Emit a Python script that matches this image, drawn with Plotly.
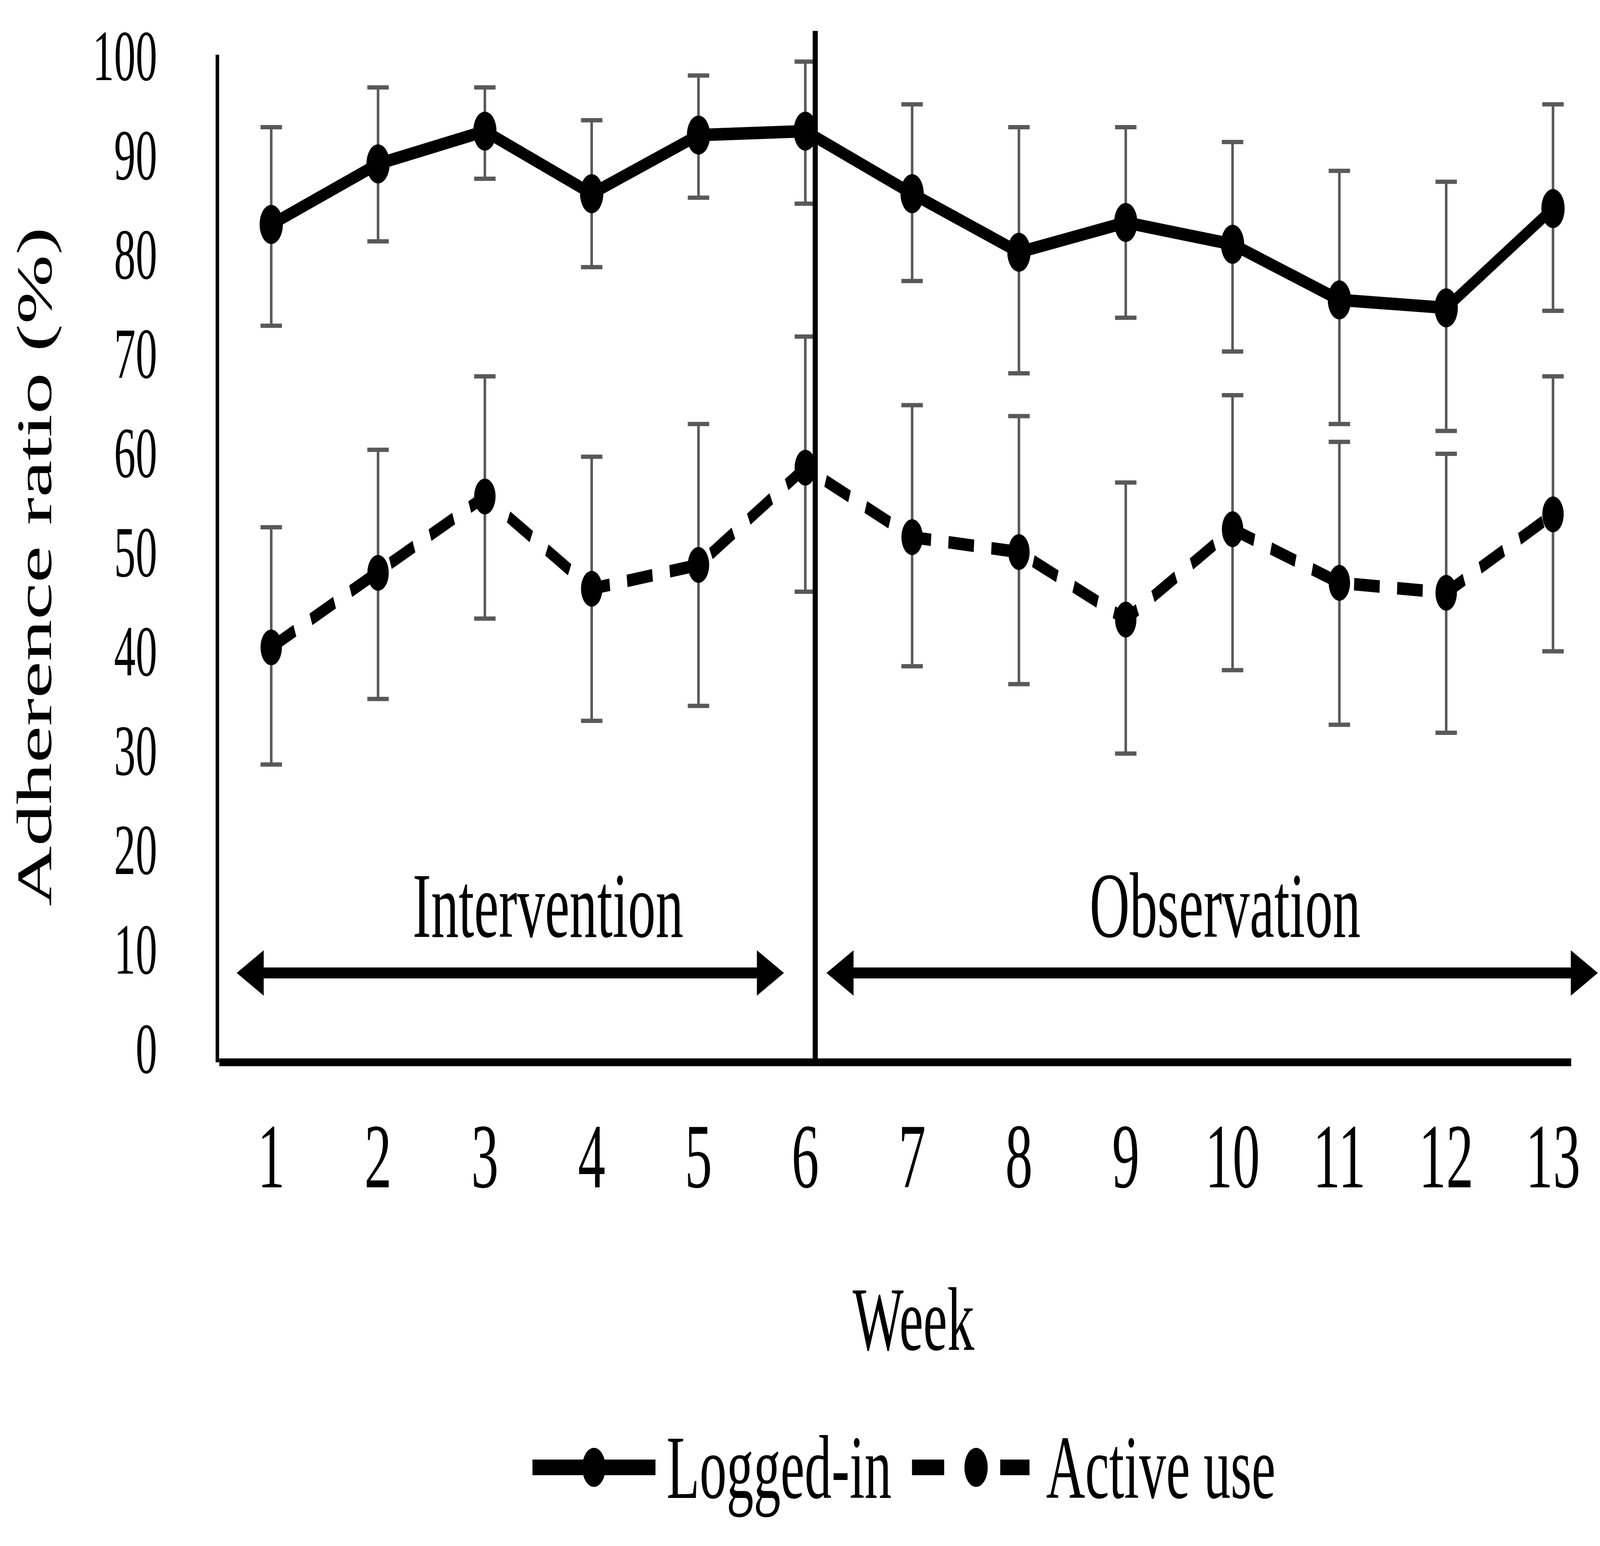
import plotly.graph_objects as go

weeks = list(range(1, 14))
week_labels = [str(w) for w in weeks]
logged_mean = [82.9, 89.0, 92.3, 86.0, 91.9, 92.3, 86.0, 80.1, 83.1, 80.9, 75.3, 74.5, 84.5]
logged_upper = [92.7, 96.7, 96.7, 93.4, 97.9, 99.3, 95.0, 92.7, 92.7, 91.2, 88.3, 87.2, 95.0]
logged_lower = [72.7, 81.2, 87.5, 78.6, 85.6, 85.0, 77.2, 67.9, 73.5, 70.1, 62.8, 62.1, 74.2]
active_mean = [40.3, 47.8, 55.5, 46.2, 48.6, 58.4, 51.4, 49.9, 43.1, 52.2, 46.8, 45.8, 53.7]
active_upper = [52.4, 60.2, 67.6, 59.5, 62.8, 71.6, 64.7, 63.6, 56.9, 65.7, 61.0, 59.8, 67.6]
active_lower = [28.5, 35.1, 43.2, 32.9, 34.4, 45.9, 38.4, 36.6, 29.6, 38.0, 32.5, 31.7, 39.9]
y_ticks = list(range(0, 101, 10))

FONT = "Liberation Serif"
W, H = 6872, 3957
XR = [0.514, 13.44]
YR = [-1.5, 100]

def err(up, mean):
    return [round(u - m, 2) for u, m in zip(up, mean)]

fig = go.Figure()
fig.add_trace(go.Scatter(
    x=weeks, y=logged_mean, mode="lines+markers", name="Logged-in",
    line=dict(color="black", width=32),
    marker=dict(color="black", size=100, symbol="circle"),
    error_y=dict(type="data", symmetric=False,
                 array=err(logged_upper, logged_mean),
                 arrayminus=err(logged_mean, logged_lower),
                 color="#595959", thickness=11, width=46),
    cliponaxis=False, showlegend=False))
fig.add_trace(go.Scatter(
    x=weeks, y=active_mean, mode="lines+markers", name="Active use",
    line=dict(color="black", width=32, dash="110px,75px"),
    marker=dict(color="black", size=92, symbol="circle"),
    error_y=dict(type="data", symmetric=False,
                 array=err(active_upper, active_mean),
                 arrayminus=err(active_mean, active_lower),
                 color="#595959", thickness=11, width=46),
    cliponaxis=False, showlegend=False))

def xp(v):
    return (v - XR[0]) / (XR[1] - XR[0])

shapes = []
shapes.append(dict(type="line", xref="paper", yref="paper", x0=0, x1=xp(13.17), y0=0, y1=0,
                   line=dict(color="black", width=20)))
div_x = 6.093
shapes.append(dict(type="line", xref="paper", yref="paper", x0=xp(div_x), x1=xp(div_x),
                   y0=0, y1=1.0237, line=dict(color="black", width=22)))
LY = -0.402
shapes.append(dict(type="line", xref="paper", yref="paper", x0=0.2268, x1=0.3159, y0=LY, y1=LY,
                   line=dict(color="black", width=40)))
shapes.append(dict(type="line", xref="paper", yref="paper", x0=0.5017, x1=0.5250, y0=LY, y1=LY,
                   line=dict(color="black", width=40)))
shapes.append(dict(type="line", xref="paper", yref="paper", x0=0.5656, x1=0.5868, y0=LY, y1=LY,
                   line=dict(color="black", width=40)))
for cx in (0.2713, 0.5481):
    shapes.append(dict(type="circle", xref="paper", yref="paper", xsizemode="pixel", ysizemode="pixel",
                       xanchor=cx, yanchor=LY, x0=-50, x1=50, y0=-50, y1=50,
                       fillcolor="black", line=dict(width=0)))

annotations = []
for (x0, x1) in [(0.673, 5.80), (6.195, 13.42)]:
    annotations.append(dict(x=x1, y=7.5, ax=x0, ay=7.5, xref="x", yref="y", axref="x", ayref="y",
                            text="", showarrow=True, arrowside="end+start", arrowhead=2, startarrowhead=2,
                            arrowsize=0.83, startarrowsize=0.83, arrowwidth=28, arrowcolor="black",
                            standoff=0, startstandoff=0, font=dict(size=1)))
annotations.append(dict(x=3.59, y=14.3, xref="x", yref="y", text="Intervention", showarrow=False,
                        xanchor="center", yanchor="middle",
                        font=dict(family=FONT, size=238, color="black")))
annotations.append(dict(x=9.93, y=14.3, xref="x", yref="y", text="Observation", showarrow=False,
                        xanchor="center", yanchor="middle",
                        font=dict(family=FONT, size=238, color="black")))
annotations.append(dict(x=0.5027, y=-0.2551, xref="paper", yref="paper", text="Week", showarrow=False,
                        xanchor="center", yanchor="middle",
                        font=dict(family=FONT, size=232, color="black")))
annotations.append(dict(x=-0.134, y=0.492, xref="paper", yref="paper", text="Adherence ratio (%)",
                        textangle=-90, showarrow=False, xanchor="center", yanchor="middle",
                        font=dict(family=FONT, size=213, color="black")))
annotations.append(dict(x=0.3236, y=LY, xref="paper", yref="paper", text="Logged-in", showarrow=False,
                        xanchor="left", yanchor="middle", font=dict(family=FONT, size=232, color="black")))
annotations.append(dict(x=0.5985, y=LY, xref="paper", yref="paper", text="Active use", showarrow=False,
                        xanchor="left", yanchor="middle", font=dict(family=FONT, size=232, color="black")))

fig.update_layout(
    width=W, height=H,
    margin=dict(l=942, r=0, t=140, b=H - 2719),
    paper_bgcolor="white", plot_bgcolor="white",
    showlegend=False,
    font=dict(family=FONT, color="black"),
    xaxis=dict(range=XR, tickmode="array", tickvals=weeks, ticktext=week_labels,
               showgrid=False, zeroline=False, showline=False, ticks="",
               ticklabelstandoff=84, tickfont=dict(family=FONT, size=235, color="black")),
    yaxis=dict(range=YR, tickmode="array", tickvals=y_ticks, ticktext=[str(t) for t in y_ticks],
               showgrid=False, zeroline=False, showline=True, linecolor="black", linewidth=16,
               ticks="", ticklabelstandoff=214, tickfont=dict(family=FONT, size=185, color="black")),
    shapes=shapes, annotations=annotations,
)

# Fit the 6872x3957 figure into the actual browser viewport (no effect when the window is full size).
fit = """
var gd = document.getElementById('{plot_id}');
document.documentElement.style.margin = '0';
document.body.style.margin = '0';
document.documentElement.style.overflow = 'hidden';
document.body.style.overflow = 'hidden';
var sx = window.innerWidth / %d, sy = window.innerHeight / %d;
if (Math.abs(sx - 1) > 0.001 || Math.abs(sy - 1) > 0.001) {
  gd.style.transformOrigin = '0 0';
  gd.style.transform = 'scale(' + sx + ',' + sy + ')';
}
""" % (W, H)
fig.write_html("out.html", post_script=fit, config={"displayModeBar": False})
